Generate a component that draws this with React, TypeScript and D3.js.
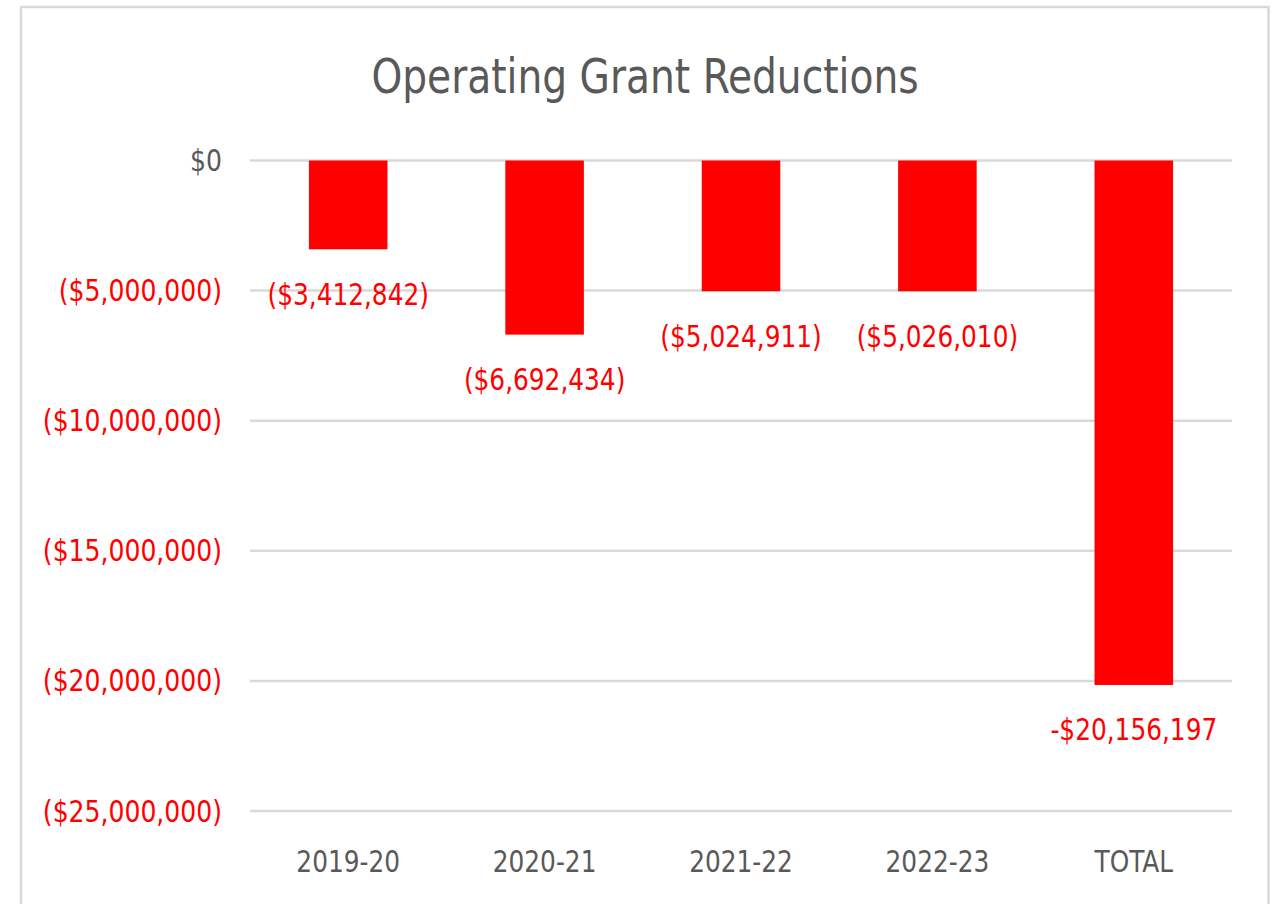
import React from "react";
import * as d3 from "d3";

const categories = ["2019-20", "2020-21", "2021-22", "2022-23", "TOTAL"];
const values = [-3412842, -6692434, -5024911, -5026010, -20156197];
const dataLabels = ["($3,412,842)", "($6,692,434)", "($5,024,911)", "($5,026,010)", "-$20,156,197"];
const yTicks = [0, -5000000, -10000000, -15000000, -20000000, -25000000];
const title = "Operating Grant Reductions";

const W = 1279;
const H = 904;
const FONT = "'Liberation Sans Narrow', 'DejaVu Sans Condensed', 'Roboto Condensed', 'Liberation Sans', sans-serif";

const fmtTick = (v: number) => {
  if (v === 0) return "$0";
  const s = d3.format(",")(Math.abs(v));
  return v < 0 ? `($${s})` : `$${s}`;
};

function T(props: {
  x: number;
  y: number;
  sx: number;
  size: number;
  fill: string;
  anchor: "start" | "middle" | "end";
  dy?: string;
  children: React.ReactNode;
}) {
  return (
    <text
      transform={`translate(${props.x},${props.y}) scale(${props.sx},1)`}
      dy={props.dy}
      textAnchor={props.anchor}
      fontFamily={FONT}
      fontSize={props.size}
      fill={props.fill}
    >
      {props.children}
    </text>
  );
}

export default function App() {
  const x = d3.scaleBand<string>().domain(categories).range([250, 1232]).paddingInner(0.6).paddingOuter(0.3);
  const y = d3.scaleLinear().domain([-25000000, 0]).range([811, 160.5]);

  return (
    <svg width={W} height={H} style={{ position: "absolute", left: 0, top: 0, background: "#fff" }}>
      <rect x={21} y={7} width={1247.5} height={H + 20} fill="#fff" stroke="#d9d9d9" strokeWidth={2.5} />
      <T x={645} y={93} sx={0.907} size={48} fill="#595959" anchor="middle">
        {title}
      </T>
      {yTicks.map((t) => (
        <g key={t}>
          <line x1={250} x2={1232} y1={y(t)} y2={y(t)} stroke="#d9d9d9" strokeWidth={2.5} />
          <T x={222} y={y(t)} dy="0.35em" sx={0.93} size={30} fill={t < 0 ? "#ff0000" : "#595959"} anchor="end">
            {fmtTick(t)}
          </T>
        </g>
      ))}
      {categories.map((c, i) => {
        const v = values[i];
        const bx = x(c) as number;
        const cx = bx + x.bandwidth() / 2;
        return (
          <g key={c}>
            <rect x={bx} y={y(0)} width={x.bandwidth()} height={y(v) - y(0)} fill="#ff0000" />
            <T x={cx} y={y(v) + 45} dy="0.35em" sx={0.92} size={30} fill="#ff0000" anchor="middle">
              {dataLabels[i]}
            </T>
            <T x={cx} y={872} sx={0.92} size={30} fill="#595959" anchor="middle">
              {c}
            </T>
          </g>
        );
      })}
    </svg>
  );
}
